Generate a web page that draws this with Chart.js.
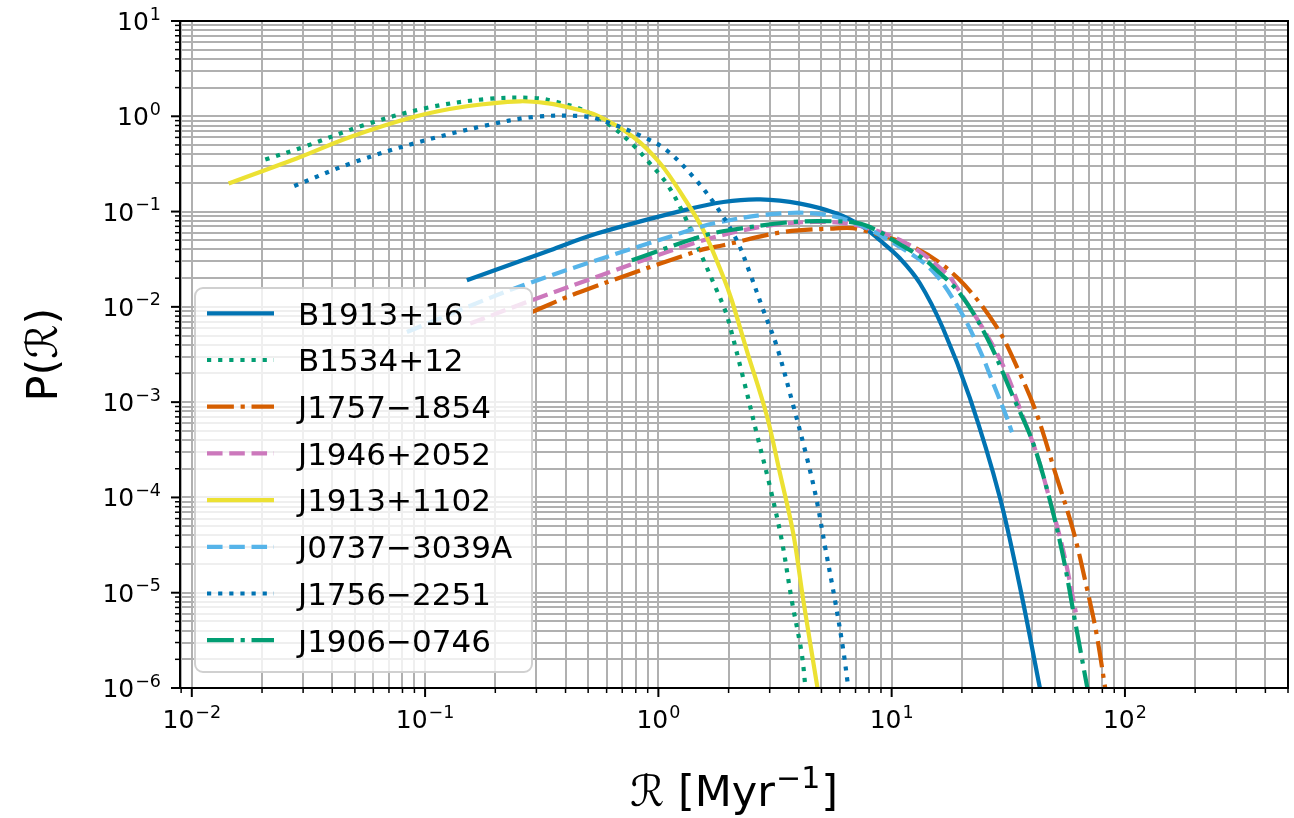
<!DOCTYPE html>
<html>
<head>
<meta charset="utf-8">
<script src="https://cdn.jsdelivr.net/npm/chart.js"></script>
<style>
  body { margin: 0; background: #fff; }
  #wrap { width: 1294px; height: 818px; }
</style>
</head>
<body>
<div id="wrap"><canvas id="rateChart" width="1294" height="818"></canvas></div>
<script>
// values (R in Myr^-1, P(R))
const seriesNames = ['B1913+16', 'B1534+12', 'J1757\u22121854', 'J1946+2052',
  'J1913+1102', 'J0737\u22123039A', 'J1756\u22122251', 'J1906\u22120746'];

const b1913x = [0.151, 0.344, 0.545, 1.28, 1.90, 2.73, 4.05, 5.81, 7.55, 8.90, 10.84, 13.21, 16.59, 21.65, 29.1, 35.5, 43.2];
const b1913y = [0.019, 0.0393, 0.0588, 0.103, 0.126, 0.134, 0.121, 0.0953, 0.069, 0.05, 0.0324, 0.0177, 0.00596, 0.0011, 1.0e-4, 1.14e-5, 1.0e-6];

const b1534x = [0.02065, 0.03013, 0.05445, 0.09843, 0.1779, 0.2913, 0.367, 0.4773, 0.621, 0.7813, 0.9214, 1.086, 1.28, 1.509, 1.779, 1.912, 1.995, 2.313, 2.64, 3.01, 3.379, 3.73, 4.116, 4.272];
const b1534y = [0.3512, 0.4763, 0.8046, 1.205, 1.508, 1.556, 1.413, 1.156, 0.8046, 0.4961, 0.319, 0.1967, 0.0953, 0.03741, 0.01494, 0.00983, 0.00723, 0.00177, 4.68e-4, 1.29e-4, 3.56e-5, 8.34e-6, 2.3e-6, 1.0e-6];

const j1757x = [0.2868, 0.4619, 1.509, 1.899, 3.433, 5.62, 7.10, 12.8, 19.29, 28.18, 35.45, 41.8, 50.9, 59.98, 68.5, 75.5, 82.3];
const j1757y = [0.00884, 0.01433, 0.03925, 0.0443, 0.0611, 0.0663, 0.066, 0.0409, 0.0198, 0.00615, 0.002, 7.6e-4, 1.64e-4, 4.53e-5, 1.15e-5, 3.73e-6, 1.0e-6];

const j1946x = [0.1561, 0.2868, 1.408, 2.728, 4.615, 7.08, 11.6, 17.2, 18.98, 26.38, 31.1, 35.45, 41.8, 47.67, 54.36, 61.6];
const j1946y = [0.00668, 0.01173, 0.0462, 0.0689, 0.0778, 0.0718, 0.0462, 0.02236, 0.01618, 0.00446, 0.002, 8.57e-4, 2.89e-4, 9.35e-5, 2.79e-5, 6.2e-6];

const j1913x = [0.01438, 0.02916, 0.04776, 0.0892, 0.151, 0.2555, 0.3436, 0.405, 0.5445, 0.7813, 1.017, 1.28, 1.559, 1.899, 2.063, 2.392, 2.913, 3.322, 3.787, 4.181, 4.81];
const j1913y = [0.1967, 0.374, 0.6065, 0.983, 1.273, 1.437, 1.359, 1.252, 1.024, 0.6065, 0.3213, 0.1422, 0.0637, 0.0206, 0.01173, 0.0035, 7.29e-4, 1.78e-4, 4.18e-5, 8.34e-6, 1.0e-6];

const j0737x = [0.08357, 0.2632, 1.509, 1.838, 2.913, 4.771, 7.08, 10.84, 14.88, 19.62, 23.89, 27.25, 31.1, 32.77];
const j0737y = [0.00545, 0.01686, 0.0689, 0.0778, 0.093, 0.0953, 0.0748, 0.04253, 0.02421, 0.00921, 0.0035, 0.001567, 7.0e-4, 4.83e-4];

const j1756x = [0.02748, 0.04776, 0.0892, 0.1779, 0.2913, 0.4773, 0.6011, 0.8625, 1.086, 1.413, 1.779, 2.168, 2.472, 2.818, 3.217, 3.766, 4.323, 4.771, 5.179, 5.716, 6.204, 6.52];
const j1756y = [0.1856, 0.319, 0.517, 0.791, 0.983, 1.0, 0.871, 0.6065, 0.4396, 0.2307, 0.1118, 0.05, 0.02236, 0.00921, 0.00386, 9.67e-4, 2.66e-4, 9.35e-5, 3.07e-5, 8.34e-6, 2.49e-6, 1.0e-6];

const j1906x = [0.7692, 1.585, 2.239, 3.787, 5.62, 7.314, 8.90, 10.16, 13.66, 15.08, 19.62, 25.53, 33.19, 40.44, 47.67, 54.36, 61.0, 69.0];
const j1906y = [0.03083, 0.05641, 0.0663, 0.0778, 0.0791, 0.0748, 0.0611, 0.05, 0.0321, 0.02623, 0.01379, 0.00483, 0.001134, 3.68e-4, 9.35e-5, 2.38e-5, 5.15e-6, 1.0e-6];

const xDecades = [-3, -2, -1, 0, 1, 2];
const yDecades = [-6, -5, -4, -3, -2, -1, 0, 1];
const xMin = 0.0089, xMax = 500;
const yMin = 1e-6, yMax = 10;

// styles (matplotlib colorblind palette)
const colors = ['#0173b2', '#029e73', '#d55e00', '#cc78bc', '#ece133', '#56b4e9', '#0173b2', '#029e73'];
const LW = 4.2;
const DOT = [LW, LW * 1.65];
const DASH = [LW * 3.7, LW * 1.6];
const DASHDOT = [LW * 6.4, LW * 1.6, LW, LW * 1.6];
const dashes = [[], DOT, DASHDOT, DASH, [], DASH, DOT, DASHDOT];

const xs = [b1913x, b1534x, j1757x, j1946x, j1913x, j0737x, j1756x, j1906x];
const ys = [b1913y, b1534y, j1757y, j1946y, j1913y, j0737y, j1756y, j1906y];

function toPoints(xv, yv) {
  return xv.map((v, i) => ({ x: v, y: yv[i] }));
}

function logTicks(decades, min, max) {
  const out = [];
  decades.forEach(d => {
    for (let m = 1; m < 10; m++) {
      const v = m * Math.pow(10, d);
      if (v >= min * 0.999 && v <= max * 1.001) out.push({ value: v, major: m === 1 });
    }
  });
  return out;
}

const datasets = seriesNames.map((name, i) => ({
  label: name,
  data: toPoints(xs[i], ys[i]),
  showLine: true,
  borderColor: colors[i],
  backgroundColor: colors[i],
  borderWidth: LW,
  borderDash: dashes[i],
  borderCapStyle: 'butt',
  pointRadius: 0,
  pointHoverRadius: 0,
  tension: 0.35,
  clip: 0,
  order: seriesNames.length - i   // later series on top, like matplotlib
}));

const FONT = '"DejaVu Sans", sans-serif';

function drawPower(ctx, exp, x, y, align) {
  const base = '10';
  const sup = exp < 0 ? '\u2212' + (-exp) : String(exp);
  ctx.font = '25px ' + FONT;
  const bw = ctx.measureText(base).width;
  ctx.font = '17.5px ' + FONT;
  const sw = ctx.measureText(sup).width;
  const total = bw + sw + 1;
  const left = align === 'right' ? x - total : x - total / 2;
  ctx.textAlign = 'left';
  ctx.textBaseline = 'alphabetic';
  ctx.font = '25px ' + FONT;
  ctx.fillText(base, left, y);
  ctx.font = '17.5px ' + FONT;
  ctx.fillText(sup, left + bw + 1, y - 10.5);
}

// ticks, spines, tick labels and axis titles
const axisDecor = {
  id: 'axisDecor',
  afterDraw(chart) {
    const { ctx, chartArea: a, scales } = chart;
    const x = scales.x, y = scales.y;
    ctx.save();
    ctx.strokeStyle = '#000';
    ctx.fillStyle = '#000';

    x.ticks.forEach(t => {
      const px = x.getPixelForValue(t.value);
      ctx.lineWidth = t.major ? 2 : 1.5;
      ctx.beginPath();
      ctx.moveTo(px, a.bottom);
      ctx.lineTo(px, a.bottom + (t.major ? 9 : 5));
      ctx.stroke();
      if (t.major) drawPower(ctx, Math.round(Math.log10(t.value)), px, 728, 'center');
    });
    y.ticks.forEach(t => {
      const py = y.getPixelForValue(t.value);
      ctx.lineWidth = t.major ? 2 : 1.5;
      ctx.beginPath();
      ctx.moveTo(a.left, py);
      ctx.lineTo(a.left - (t.major ? 9 : 5), py);
      ctx.stroke();
      if (t.major) drawPower(ctx, Math.round(Math.log10(t.value)), 161, py + 9, 'right');
    });

    ctx.lineWidth = 2;
    ctx.strokeRect(a.left, a.top, a.right - a.left, a.bottom - a.top);

    // x title: R [Myr^-1]
    ctx.textBaseline = 'alphabetic';
    ctx.textAlign = 'left';
    const big = '43px ' + FONT, small = '30px ' + FONT;
    ctx.font = big;
    const p1 = '\u211B [Myr', p2 = ']';
    const w1 = ctx.measureText(p1).width, w2 = ctx.measureText(p2).width;
    ctx.font = small;
    const ws = ctx.measureText('\u22121').width;
    const total = w1 + ws + w2 + 2;
    const lx = (a.left + a.right) / 2 - total / 2;
    ctx.font = big;
    ctx.fillText(p1, lx, 806);
    ctx.font = small;
    ctx.fillText('\u22121', lx + w1 + 1, 806 - 18);
    ctx.font = big;
    ctx.fillText(p2, lx + w1 + ws + 2, 806);

    // y title: P(R)
    ctx.save();
    ctx.translate(57, (a.top + a.bottom) / 2);
    ctx.rotate(-Math.PI / 2);
    ctx.textAlign = 'center';
    ctx.font = big;
    ctx.fillText('P(\u211B)', 0, 0);
    ctx.restore();

    ctx.restore();
  }
};

// legend box drawn inside the axes, over the curves
const innerLegend = {
  id: 'innerLegend',
  afterDatasetsDraw(chart) {
    const ctx = chart.ctx;
    const bx = 195, by = 288, bw = 337, bh = 384, r = 8;
    ctx.save();
    ctx.beginPath();
    ctx.moveTo(bx + r, by);
    ctx.arcTo(bx + bw, by, bx + bw, by + bh, r);
    ctx.arcTo(bx + bw, by + bh, bx, by + bh, r);
    ctx.arcTo(bx, by + bh, bx, by, r);
    ctx.arcTo(bx, by, bx + bw, by, r);
    ctx.closePath();
    ctx.fillStyle = 'rgba(255,255,255,0.8)';
    ctx.fill();
    ctx.strokeStyle = '#d0d0d0';
    ctx.lineWidth = 2;
    ctx.stroke();

    seriesNames.forEach((name, i) => {
      const cy = 313.3 + 46.7 * i;
      ctx.strokeStyle = colors[i];
      ctx.lineWidth = LW;
      ctx.lineCap = 'butt';
      ctx.setLineDash(dashes[i]);
      ctx.beginPath();
      ctx.moveTo(207, cy);
      ctx.lineTo(274, cy);
      ctx.stroke();
      ctx.setLineDash([]);
      ctx.fillStyle = '#000';
      ctx.font = '31px ' + FONT;
      ctx.textAlign = 'left';
      ctx.textBaseline = 'alphabetic';
      ctx.fillText(name, 298, cy + 11.3);
    });
    ctx.restore();
  }
};

new Chart(document.getElementById('rateChart'), {
  type: 'scatter',
  data: { datasets: datasets },
  options: {
    responsive: false,
    animation: false,
    events: [],
    layout: { padding: { top: 21, right: 6, left: 0, bottom: 0 } },
    plugins: { legend: { display: false }, tooltip: { enabled: false } },
    scales: {
      x: {
        type: 'logarithmic',
        min: xMin,
        max: xMax,
        afterBuildTicks: s => { s.ticks = logTicks(xDecades, xMin, xMax); },
        afterFit: s => { s.height = 130; },
        ticks: { display: false, autoSkip: false },
        grid: { color: '#b0b0b0', lineWidth: 2, drawTicks: false },
        border: { display: false }
      },
      y: {
        type: 'logarithmic',
        min: yMin,
        max: yMax,
        afterBuildTicks: s => { s.ticks = logTicks(yDecades, yMin, yMax); },
        afterFit: s => { s.width = 180; },
        ticks: { display: false, autoSkip: false },
        grid: { color: '#b0b0b0', lineWidth: 2, drawTicks: false },
        border: { display: false }
      }
    }
  },
  plugins: [axisDecor, innerLegend]
});
</script>
</body>
</html>
